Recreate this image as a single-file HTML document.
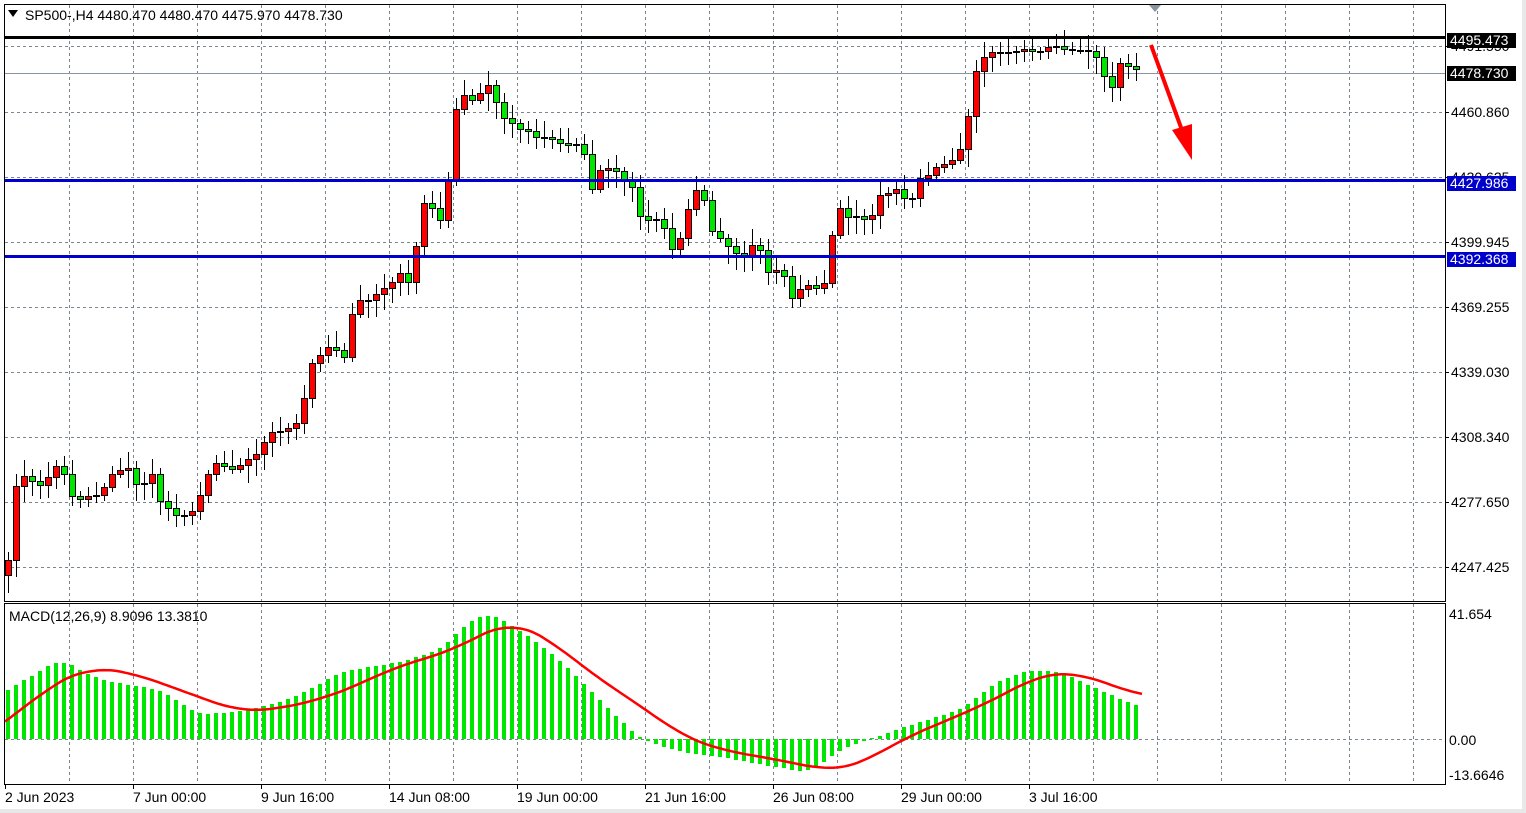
<!DOCTYPE html><html><head><meta charset="utf-8"><style>
html,body{margin:0;padding:0;background:#fff;width:1526px;height:813px;overflow:hidden;font-family:"Liberation Sans",sans-serif}
svg text{font-family:"Liberation Sans",sans-serif;font-size:14px}
</style></head><body>
<svg id="s" width="1526" height="813" xmlns="http://www.w3.org/2000/svg"></svg>
<script>
const s=document.getElementById('s');let h='';
h+='<rect x="0" y="0" width="1526" height="813" fill="#fff"/>';
for(let x=69;x<1445;x+=64){h+=`<line x1="${x}.5" y1="5" x2="${x}.5" y2="601" stroke="#7a8591" stroke-dasharray="3,3"/><line x1="${x}.5" y1="604" x2="${x}.5" y2="784" stroke="#7a8591" stroke-dasharray="3,3"/>`;}
[46,112,177,242,307,372,437,502,567].forEach(y=>h+=`<line x1="5" y1="${y}.5" x2="1445" y2="${y}.5" stroke="#7a8591" stroke-dasharray="3,3"/>`);
h+=`<line x1="5" y1="739.5" x2="1445" y2="739.5" stroke="#7a8591" stroke-dasharray="3,3"/>`;
h+=`<line x1="5" y1="73.5" x2="1445" y2="73.5" stroke="#8a949e" stroke-width="1"/>`;
const pts=[[8,560],[14,490],[22,475],[30,480],[40,485],[46,480],[60,460],[70,495],[78,500],[90,495],[100,495],[110,475],[120,470],[130,468],[140,495],[150,465],[158,500],[165,505],[175,515],[190,515],[205,485],[212,460],[220,465],[235,470],[245,460],[255,455],[262,445],[270,432],[285,430],[300,420],[310,365],[320,355],[330,345],[345,358],[350,318],[360,300],[370,300],[380,290],[390,285],[398,272],[405,275],[412,292],[420,200],[428,205],[436,210],[444,230],[452,128],[460,90],[468,100],[476,100],[484,86],[492,84],[500,120],[508,115],[516,130],[525,128],[533,137],[541,137],[550,138],[558,142],[566,145],[574,145],[582,140],[590,195],[598,170],[606,168],[615,170],[622,180],[630,178],[638,215],[646,220],[654,218],[662,220],[670,250],[678,245],[686,215],[694,190],[702,190],[710,230],[718,235],[726,245],[734,250],[742,260],[750,245],[758,243],[766,272],[774,270],[782,268],[790,300],[798,290],[806,285],[814,285],[822,296],[830,245],[838,205],[846,218],[854,215],[862,218],[870,222],[878,195],[886,195],[894,187],[902,195],[910,205],[918,178],[926,178],[934,167],[942,165],[950,162],[958,155],[966,130],[974,75],[982,58],[990,52],[998,52],[1006,52],[1014,52],[1022,48],[1030,50],[1038,52],[1046,48],[1054,45],[1062,48],[1070,50],[1078,50],[1086,50],[1094,52],[1102,70],[1110,95],[1118,62],[1126,65],[1134,68],[1142,72]];
function interp(a,x){for(let i=0;i<a.length-1;i++){if(x<=a[i+1][0]){const t=(x-a[i][0])/(a[i+1][0]-a[i][0]);return a[i][1]+t*(a[i+1][1]-a[i][1]);}}return a[a.length-1][1];}
function smooth(a,x,r){let sum=0,n=0;for(let k=-r;k<=r;k+=2){sum+=interp(a,x+k);n++;}return sum/n;}
let prev=575;
for(let x=8;x<=1142;x+=8){const c=Math.round(interp(pts,x));const o=prev;const top=Math.min(o,c),bot=Math.max(o,c);
const w1=4+((x*7)%13),w2=4+((x*13)%15);
h+=`<line x1="${x}.5" y1="${top-w1}" x2="${x}.5" y2="${bot+w2}" stroke="#000"/>`;
const col=c<o?'#ff0000':'#00e600';
h+=`<rect x="${x-3}.5" y="${top}.5" width="6" height="${Math.max(1,bot-top)}" fill="${col}" stroke="#000"/>`;prev=c;}
h+=`<rect x="5" y="36" width="1440" height="3" fill="#000"/><rect x="5" y="179" width="1440" height="3" fill="#0000cc"/><rect x="5" y="255" width="1440" height="3" fill="#0000cc"/>`;
h+=`<line x1="1151" y1="45" x2="1183" y2="133" stroke="#f00" stroke-width="4"/><polygon points="1192,160 1172,130 1192,124" fill="#f00"/>`;
h+=`<polygon points="1149,5 1161,5 1155,12" fill="#8a949e"/>`;
const hist=[[8,690],[60,659],[100,680],[160,690],[200,715],[230,712],[260,708],[300,695],[340,672],[400,662],[440,650],[470,620],[490,613],[520,630],[560,660],[600,700],[640,739],[680,752],[720,757],[780,768],[810,772],[840,750],[870,739],[920,722],[960,710],[1000,680],[1030,670],[1060,672],[1100,690],[1142,708]];
for(let x=8;x<=1142;x+=8){const y=Math.round(smooth(hist,x,12));const t=Math.min(y,739),b=Math.max(y,739);h+=`<rect x="${x-2}" y="${t}" width="4" height="${b-t}" fill="#00e600"/>`;}
const sig=[[5,722],[20,712],[50,685],[90,667],[130,672],[180,690],[240,712],[270,710],[320,700],[360,684],[400,665],[450,652],[480,635],[512,620],[550,640],[600,680],[640,705],[680,735],[720,750],[780,760],[830,771],[860,765],[900,740],[960,715],[1000,697],[1040,674],[1070,672],[1100,680],[1142,697]];
let d='';for(let x=5;x<=1142;x+=3){d+=(d?'L':'M')+x+','+smooth(sig,x,30).toFixed(1);}
h+=`<path d="${d}" fill="none" stroke="#f00" stroke-width="2.5"/>`;
h+=`<rect x="4.5" y="4.5" width="1441" height="597" fill="none" stroke="#000"/><rect x="4.5" y="603.5" width="1441" height="181" fill="none" stroke="#000"/>`;
h+=`<rect x="0" y="809" width="1526" height="4" fill="#e8e8e8"/><rect x="1522" y="0" width="4" height="813" fill="#e8e8e8"/>`;
[[46,'4491.550'],[112,'4460.860'],[177,'4430.625'],[242,'4399.945'],[307,'4369.255'],[372,'4339.030'],[437,'4308.340'],[502,'4277.650'],[567,'4247.425']].forEach(([y,t])=>{h+=`<line x1="1445" y1="${y}.5" x2="1449" y2="${y}.5" stroke="#000"/><text x="1451" y="${y+5}">${t}</text>`;});
[[73,'4478.730','#000'],[40,'4495.473','#000'],[183,'4427.986','#0000cc'],[259,'4392.368','#0000cc']].forEach(([y,t,c])=>{h+=`<rect x="1447" y="${y-7}" width="69" height="15" fill="${c}"/><text x="1450" y="${y+5}" fill="#fff">${t}</text>`;});
[[614,'41.654'],[740,'0.00'],[775,'-13.6646']].forEach(([y,t])=>h+=`<text x="1449" y="${y+5}">${t}</text>`);
['2 Jun 2023','7 Jun 00:00','9 Jun 16:00','14 Jun 08:00','19 Jun 00:00','21 Jun 16:00','26 Jun 08:00','29 Jun 00:00','3 Jul 16:00'].forEach((t,i)=>{const x=5+i*128;h+=`<line x1="${x}.5" y1="784" x2="${x}.5" y2="789" stroke="#000"/><text x="${x}" y="802">${t}</text>`;});
h+=`<polygon points="8,10 18,10 13,17" fill="#000"/><text x="25" y="20">SP500-,H4  4480.470 4480.470 4475.970 4478.730</text>`;
h+=`<text x="9" y="621">MACD(12,26,9) 8.9096 13.3810</text>`;
s.innerHTML=h;
</script></body></html>
